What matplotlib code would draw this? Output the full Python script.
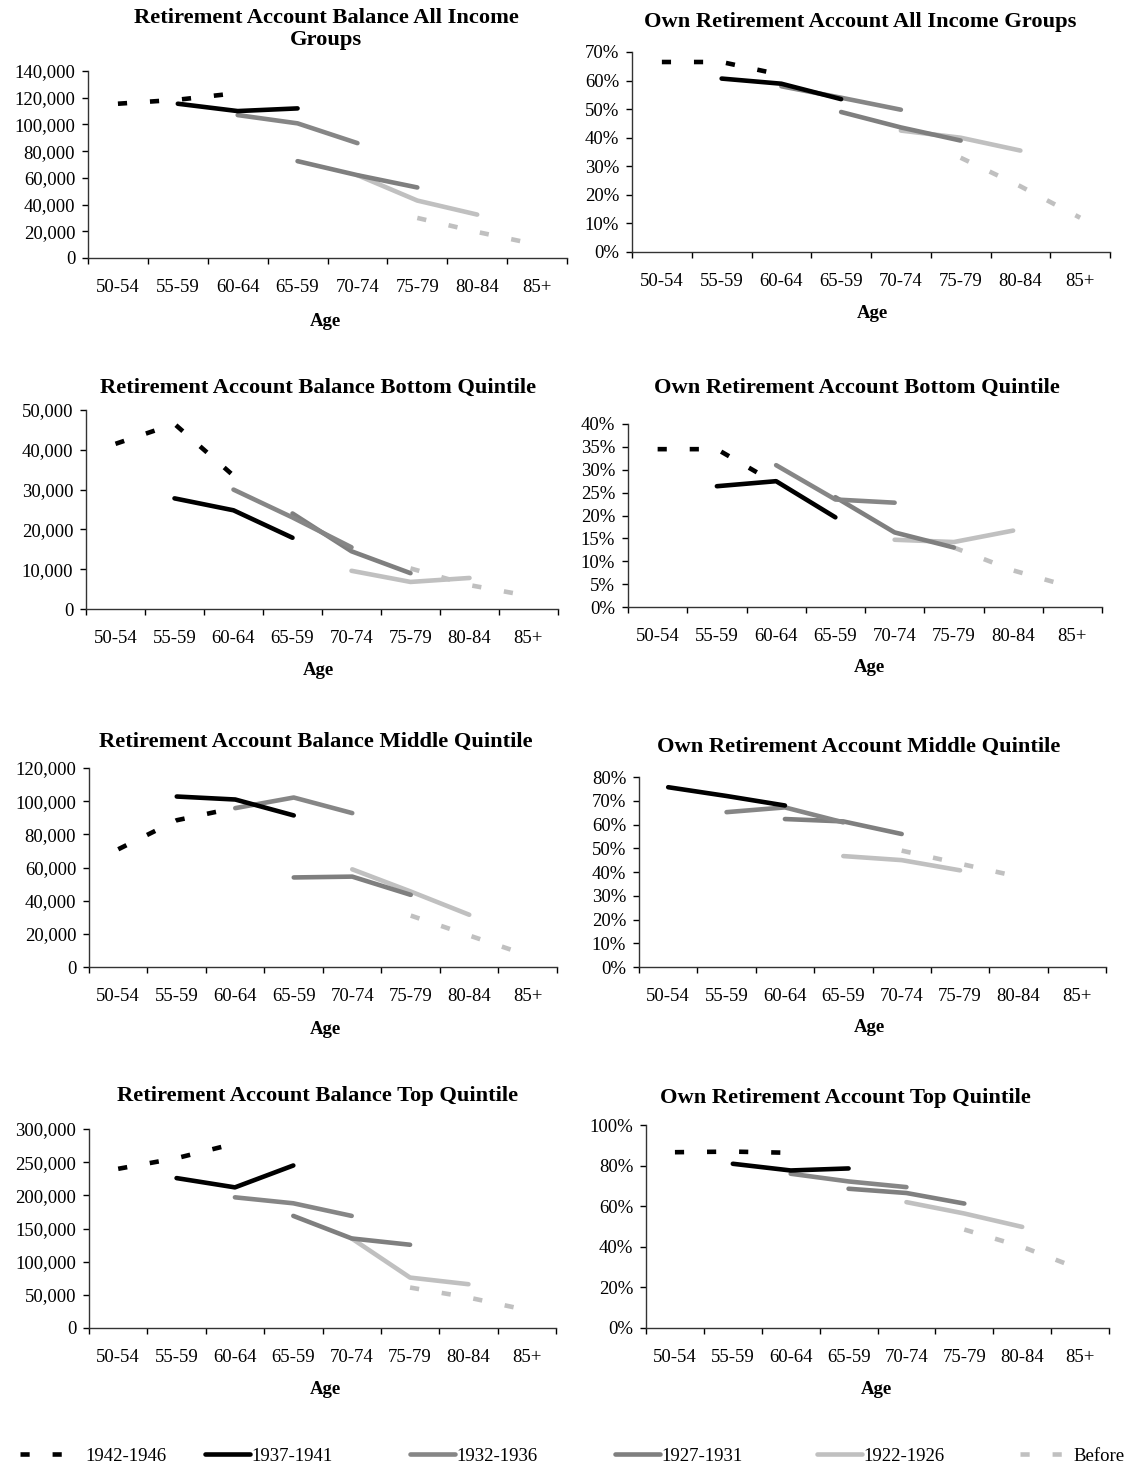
import matplotlib

matplotlib.use("Agg")
import matplotlib.pyplot as plt
import numpy as np
from matplotlib.lines import Line2D
from matplotlib.ticker import FuncFormatter, MultipleLocator

W, H = 1125, 1468
NA = np.nan

AGE_GROUPS = ["50-54", "55-59", "60-64", "65-59", "70-74", "75-79", "80-84", "85+"]
COHORTS = ["1942-1946", "1937-1941", "1932-1936", "1927-1931", "1922-1926", "Before"]

# one row per cohort, one column per age group
BAL_ALL = [
    [115500, 118500, 123500, NA, NA, NA, NA, NA],
    [NA, 115500, 110000, 112000, NA, NA, NA, NA],
    [NA, NA, 107000, 100800, 86000, NA, NA, NA],
    [NA, NA, NA, 72500, 62000, 52800, NA, NA],
    [NA, NA, NA, NA, 62000, 43000, 32500, NA],
    [NA, NA, NA, NA, NA, 30000, 19500, 10000],
]
OWN_ALL = [
    [66.5, 66.5, 62.0, NA, NA, NA, NA, NA],
    [NA, 60.7, 58.9, 53.5, NA, NA, NA, NA],
    [NA, NA, 58.0, 54.0, 49.8, NA, NA, NA],
    [NA, NA, NA, 49.0, 43.6, 39.0, NA, NA],
    [NA, NA, NA, NA, 42.5, 40.0, 35.5, NA],
    [NA, NA, NA, NA, NA, 33.0, 23.0, 12.0],
]
BAL_BOTTOM = [
    [41500, 46500, 33500, NA, NA, NA, NA, NA],
    [NA, 27800, 24800, 17900, NA, NA, NA, NA],
    [NA, NA, 30000, 23000, 15500, NA, NA, NA],
    [NA, NA, NA, 24000, 14500, 9000, NA, NA],
    [NA, NA, NA, NA, 9600, 6800, 7800, NA],
    [NA, NA, NA, NA, NA, 10200, 6000, 3300],
]
OWN_BOTTOM = [
    [34.5, 34.5, 27.0, NA, NA, NA, NA, NA],
    [NA, 26.4, 27.5, 19.6, NA, NA, NA, NA],
    [NA, NA, 31.0, 23.5, 22.8, NA, NA, NA],
    [NA, NA, NA, 24.0, 16.3, 13.0, NA, NA],
    [NA, NA, NA, NA, 14.7, 14.2, 16.7, NA],
    [NA, NA, NA, NA, NA, 13.0, 8.0, 4.3],
]
BAL_MIDDLE = [
    [71000, 88500, 96000, NA, NA, NA, NA, NA],
    [NA, 102800, 101000, 91400, NA, NA, NA, NA],
    [NA, NA, 95800, 102200, 92800, NA, NA, NA],
    [NA, NA, NA, 54000, 54500, 43500, NA, NA],
    [NA, NA, NA, NA, 58900, 45500, 31500, NA],
    [NA, NA, NA, NA, NA, 31000, 19000, 7000],
]
OWN_MIDDLE = [
    [NA, NA, NA, NA, NA, NA, NA, NA],
    [75.7, 72.0, 68.0, NA, NA, NA, NA, NA],
    [NA, 65.2, 67.2, 60.9, NA, NA, NA, NA],
    [NA, NA, 62.3, 61.3, 56.0, NA, NA, NA],
    [NA, NA, NA, 46.7, 45.0, 40.7, NA, NA],
    [NA, NA, NA, NA, 49.0, 43.5, 38.0, NA],
]
BAL_TOP = [
    [240000, 256000, 278000, NA, NA, NA, NA, NA],
    [NA, 226000, 212000, 245000, NA, NA, NA, NA],
    [NA, NA, 197000, 188000, 169000, NA, NA, NA],
    [NA, NA, NA, 169000, 135000, 125500, NA, NA],
    [NA, NA, NA, NA, 135000, 76000, 66000, NA],
    [NA, NA, NA, NA, NA, 61000, 46000, 27000],
]
OWN_TOP = [
    [86.6, 86.9, 86.3, NA, NA, NA, NA, NA],
    [NA, 80.9, 77.6, 78.6, NA, NA, NA, NA],
    [NA, NA, 76.0, 72.2, 69.4, NA, NA, NA],
    [NA, NA, NA, 68.6, 66.5, 61.3, NA, NA],
    [NA, NA, NA, NA, 62.0, 56.4, 49.8, NA],
    [NA, NA, NA, NA, NA, 48.5, 40.0, 29.0],
]

STYLES = [
    dict(color="#000000", dashes=(2.0, 5.0)),
    dict(color="#000000"),
    dict(color="#868686"),
    dict(color="#7f7f7f"),
    dict(color="#c0c0c0"),
    dict(color="#c0c0c0", dashes=(2.0, 5.0)),
]
LW = 3.3
TICK_SIZE = 13.5

plt.rcParams["font.family"] = ["Liberation Serif", "DejaVu Serif"]

comma_fmt = FuncFormatter(lambda v, _: f"{v:,.0f}")
pct_fmt = FuncFormatter(lambda v, _: f"{v:.0f}%")

# title, data, ymax, step, formatter, axes box (l, t, r, b), title xy, Age xy
PANELS = [
    ("Retirement Account Balance All Income\nGroups", BAL_ALL, 140000, 20000, comma_fmt,
     (88, 71, 567, 258), (326, 29), (325, 322)),
    ("Own Retirement Account All Income Groups", OWN_ALL, 70, 10, pct_fmt,
     (632, 52, 1110, 252), (860, 22), (872, 314)),
    ("Retirement Account Balance Bottom Quintile", BAL_BOTTOM, 50000, 10000, comma_fmt,
     (86, 410, 558, 609), (318, 388), (318, 671)),
    ("Own Retirement Account Bottom Quintile", OWN_BOTTOM, 40, 5, pct_fmt,
     (628, 424, 1102, 607), (857, 388), (869, 668)),
    ("Retirement Account Balance Middle Quintile", BAL_MIDDLE, 120000, 20000, comma_fmt,
     (89, 768, 557, 967), (316, 742), (325, 1029)),
    ("Own Retirement Account Middle Quintile", OWN_MIDDLE, 80, 10, pct_fmt,
     (639, 777, 1106, 967), (859, 747), (869, 1028)),
    ("Retirement Account Balance Top Quintile", BAL_TOP, 300000, 50000, comma_fmt,
     (89, 1129, 556, 1328), (318, 1096), (325, 1389)),
    ("Own Retirement Account Top Quintile", OWN_TOP, 100, 20, pct_fmt,
     (646, 1125, 1109, 1328), (845, 1098), (876, 1390)),
]

# legend entry start (px) and gap between key and label (em)
LEGEND_X = [20, 205, 410, 615, 817, 1020]
LEGEND_PAD = [1.1, 0.05, 0.05, 0.05, 0.05, 0.45]


def add_panel(fig, title, data, ymax, step, fmt, box, title_xy, age_xy):
    l, t, r, b = box
    ax = fig.add_axes([l / W, 1 - b / H, (r - l) / W, (b - t) / H])
    x = np.arange(len(AGE_GROUPS))
    # older cohorts first so the younger ones sit on top
    for values, style in reversed(list(zip(data, STYLES))):
        ax.plot(x, values, lw=LW, solid_capstyle="round", dash_capstyle="butt", **style)

    ax.set_xlim(-0.5, len(AGE_GROUPS) - 0.5)
    ax.set_ylim(0, ymax)
    ax.yaxis.set_major_locator(MultipleLocator(step))
    ax.yaxis.set_major_formatter(fmt)

    ax.set_xticks(np.arange(len(AGE_GROUPS) + 1) - 0.5)
    ax.set_xticklabels([])
    ax.set_xticks(x, minor=True)
    ax.set_xticklabels(AGE_GROUPS, minor=True)
    ax.tick_params(axis="x", which="major", length=4.2, width=1, direction="out")
    ax.tick_params(axis="x", which="minor", length=0, pad=15, labelsize=TICK_SIZE)
    ax.tick_params(axis="y", length=4.2, width=1, direction="out", pad=5,
                   labelsize=TICK_SIZE)

    for side in ("top", "right"):
        ax.spines[side].set_visible(False)
    for side in ("left", "bottom"):
        ax.spines[side].set_color("#333333")
        ax.spines[side].set_linewidth(1)

    fig.text(title_xy[0] / W, 1 - title_xy[1] / H, title, ha="center", va="center",
             fontsize=16.2, fontweight="bold", linespacing=1.12)
    fig.text(age_xy[0] / W, 1 - age_xy[1] / H, "Age", ha="center", va="center",
             fontsize=13.5, fontweight="bold")
    return ax


def main() -> None:
    fig = plt.figure(figsize=(W / 100, H / 100), dpi=100)
    fig.patch.set_facecolor("white")
    for panel in PANELS:
        add_panel(fig, *panel)

    for label, style, x0, pad in zip(COHORTS, STYLES, LEGEND_X, LEGEND_PAD):
        handle = Line2D([], [], lw=LW, solid_capstyle="round", dash_capstyle="butt", **style)
        fig.legend([handle], [label], loc="center left",
                   bbox_to_anchor=(x0 / W, 1 - 1456 / H), frameon=False,
                   fontsize=13.5, handlelength=2.4, handletextpad=pad,
                   borderpad=0, borderaxespad=0)

    fig.savefig("out.png", dpi=100, facecolor="white")
    plt.close(fig)


if __name__ == "__main__":
    main()
